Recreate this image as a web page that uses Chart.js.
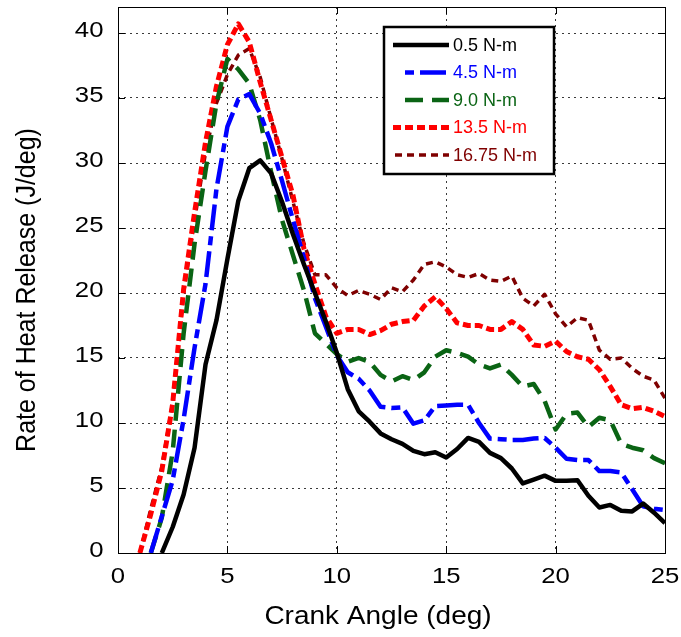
<!DOCTYPE html>
<html>
<head>
<meta charset="utf-8">
<title>Rate of Heat Release</title>
<script src="https://cdn.jsdelivr.net/npm/chart.js@4.4.0/dist/chart.umd.min.js"></script>
<style>
  html, body { margin: 0; padding: 0; background: #fff; }
  #chart { display: block; }
</style>
</head>
<body>
<canvas id="chart" width="681" height="637"></canvas>
<script>
const FONT = "'Liberation Sans', Arial, Helvetica, sans-serif";

// crank angle (deg) shared by every load case
const angle = [1, 1.5, 2, 2.5, 3, 3.5, 4, 4.5, 5, 5.5, 6, 6.5, 7, 7.5, 8, 8.5, 9, 9.5,
  10, 10.5, 11, 11.5, 12, 12.5, 13, 13.5, 14, 14.5, 15, 15.5, 16, 16.5, 17, 17.5,
  18, 18.5, 19, 19.5, 20, 20.5, 21, 21.5, 22, 22.5, 23, 23.5, 24, 24.5, 25];

// rate of heat release (J/deg), one array per engine load
const hrr_0_5 = [null, null, 0, 2.0, 4.5, 8.1, 14.5, 17.9, 22.6, 27.1, 29.6, 30.2, 29.2, 27.0,
  24.5, 22.2, 20.0, 17.8, 15.4, 12.6, 10.9, 10.1, 9.2, 8.75, 8.4, 7.85, 7.6, 7.75, 7.35, 8.0,
  8.85, 8.55, 7.7, 7.3, 6.5, 5.35, 5.65, 5.95, 5.55, 5.55, 5.6, 4.4, 3.5, 3.7, 3.25, 3.2, 3.8, 3.1, 2.3];
const hrr_4_5 = [null, 0, 2.8, 5.6, 10.3, 15.8, 20.7, 28.0, 32.8, 34.9, 35.3, 33.8, 31.5, 28.6,
  25.6, 22.7, 19.6, 17.4, 15.2, 13.9, 13.4, 12.5, 11.25, 11.15, 11.2, 9.95, 10.2, 11.3, 11.35, 11.4,
  11.4, 10.0, 8.8, 8.75, 8.7, 8.7, 8.8, 8.85, 8.1, 7.25, 7.15, 7.15, 6.3, 6.3, 6.2, 4.9, 3.6, 3.4, 3.3];
const hrr_9_0 = [null, 0, 2.7, 7.8, 16.9, 23.8, 29.4, 34.6, 38.0, 37.2, 36.1, 33.3, 29.3, 25.6,
  22.9, 20.2, 16.9, 16.1, 15.3, 14.7, 15.0, 14.7, 13.7, 13.2, 13.6, 13.3, 13.9, 15.1, 15.6, 15.4,
  15.1, 14.5, 14.2, 14.5, 13.7, 12.8, 13.0, 11.7, 9.5, 10.7, 10.8, 9.7, 10.4, 10.2, 8.4, 8.1, 7.9, 7.3, 6.9];
const hrr_13_5 = [0, 3.0, 6.3, 11.5, 20.3, 26.2, 31.6, 35.9, 39.1, 40.7, 39.3, 36.2, 33.3, 30.4,
  27.5, 23.4, 20.7, 18.2, 16.9, 17.2, 17.2, 16.8, 17.1, 17.6, 17.8, 17.9, 19.0, 19.7, 18.8, 17.7,
  17.5, 17.5, 17.2, 17.2, 17.8, 17.2, 16.0, 15.9, 16.3, 15.5, 15.1, 14.9, 14.1, 12.8, 11.4, 11.1, 11.2, 10.9, 10.5];
const hrr_16_75 = [0, 3.4, 6.6, 11.6, 20.0, 25.6, 30.8, 34.6, 36.8, 38.3, 38.8, 36.6, 33.4, 30.3,
  27.0, 23.8, 21.4, 21.4, 20.4, 19.8, 20.2, 19.9, 19.5, 20.4, 20.1, 21.0, 22.2, 22.4, 22.0, 21.4,
  21.2, 21.5, 21.0, 20.9, 21.3, 19.6, 19.0, 19.9, 18.4, 17.4, 18.1, 17.9, 15.6, 14.9, 15.0, 14.2, 13.6, 13.3, 11.9];

const loadLabels = ["0.5 N-m", "4.5 N-m", "9.0 N-m", "13.5 N-m", "16.75 N-m"];
const xTicks = [0, 5, 10, 15, 20, 25];
const yTicks = [0, 5, 10, 15, 20, 25, 30, 35, 40];
const xTitle = "Crank Angle (deg)";
const yTitle = "Rate of Heat Release (J/deg)";

const pts = (ys) => angle.map((x, i) => ({ x, y: ys[i] }));

const line = (label, ys, color, width, dash) => ({
  label,
  data: pts(ys),
  borderColor: color,
  backgroundColor: color,
  borderWidth: width,
  borderDash: dash,
  borderCapStyle: "butt",
  borderJoinStyle: "round",
  pointRadius: 0,
  tension: 0,
  fill: false,
});

// box, inward tick marks
const frame = {
  id: "frame",
  afterDatasetsDraw(chart) {
    const { ctx, chartArea: a, scales } = chart;
    ctx.save();
    ctx.strokeStyle = "#000";
    ctx.lineWidth = 1;
    ctx.setLineDash([]);
    ctx.beginPath();
    const L = 7;
    xTicks.forEach((v) => {
      const x = Math.round(scales.x.getPixelForValue(v)) + 0.5;
      ctx.moveTo(x, a.bottom); ctx.lineTo(x, a.bottom - L);
      ctx.moveTo(x, a.top); ctx.lineTo(x, a.top + L);
    });
    yTicks.forEach((v) => {
      const y = Math.round(scales.y.getPixelForValue(v)) + 0.5;
      ctx.moveTo(a.left, y); ctx.lineTo(a.left + L, y);
      ctx.moveTo(a.right, y); ctx.lineTo(a.right - L, y);
    });
    ctx.stroke();
    ctx.strokeRect(Math.round(a.left) + 0.5, Math.round(a.top) + 0.5,
      Math.round(a.right - a.left), Math.round(a.bottom - a.top));
    ctx.restore();
  },
};

// tick labels and axis titles use a slightly widened face
const TICK_SIZE = 22, TICK_SX = 1.17;
const TITLE_SIZE = 25, TITLE_SX = 1.12;

function wideText(ctx, text, x, y, sx, align, baseline) {
  ctx.save();
  ctx.translate(x, y);
  ctx.scale(sx, 1);
  ctx.textAlign = align;
  ctx.textBaseline = baseline;
  ctx.fillText(text, 0, 0);
  ctx.restore();
}

const axisText = {
  id: "axisText",
  afterDraw(chart) {
    const { ctx, scales } = chart;
    ctx.save();
    ctx.fillStyle = "#000";
    ctx.font = `${TICK_SIZE}px ${FONT}`;
    scales.x.ticks.forEach((t) => {
      wideText(ctx, String(t.value), scales.x.getPixelForValue(t.value), 577, TICK_SX, "center", "middle");
    });
    scales.y.ticks.forEach((t) => {
      wideText(ctx, String(t.value), 103.5, scales.y.getPixelForValue(t.value) - 2.5, TICK_SX, "right", "middle");
    });

    ctx.font = `${TITLE_SIZE}px ${FONT}`;
    wideText(ctx, xTitle, 378, 624, TITLE_SX, "center", "alphabetic");

    ctx.save();
    ctx.translate(35, 290);
    ctx.rotate(-Math.PI / 2);
    ctx.scale(1, TITLE_SX);
    ctx.textAlign = "center";
    ctx.textBaseline = "alphabetic";
    ctx.fillText(yTitle, 0, 0);
    ctx.restore();
    ctx.restore();
  },
};

// legend box in the upper right of the plot
const legendStart = [393, 405, 405, 393, 395];
const legendOffset = [0, 32, 0, 0, 0];
const boxLegend = {
  id: "boxLegend",
  afterDatasetsDraw(chart) {
    const { ctx } = chart;
    const x0 = 384, y0 = 27, w = 170, h = 147;
    ctx.save();
    ctx.fillStyle = "#fff";
    ctx.fillRect(x0, y0, w, h);
    ctx.lineWidth = 2.5;
    ctx.strokeStyle = "#000";
    ctx.setLineDash([]);
    ctx.strokeRect(x0, y0, w, h);
    ctx.font = `18px ${FONT}`;
    ctx.textBaseline = "middle";
    chart.data.datasets.forEach((ds, i) => {
      const y = 45 + i * 27.5;
      ctx.beginPath();
      ctx.setLineDash(ds.borderDash || []);
      ctx.lineDashOffset = legendOffset[i];
      ctx.lineWidth = ds.borderWidth;
      ctx.strokeStyle = ds.borderColor;
      ctx.lineCap = "butt";
      ctx.moveTo(legendStart[i], y);
      ctx.lineTo(449, y);
      ctx.stroke();
      ctx.setLineDash([]);
      ctx.fillStyle = ds.borderColor;
      ctx.fillText(ds.label, 453, y + 1);
    });
    ctx.restore();
  },
};

const gridStyle = { color: "#3a3a3a", lineWidth: 1, drawTicks: false };

new Chart(document.getElementById("chart"), {
  type: "line",
  data: {
    datasets: [
      line(loadLabels[0], hrr_0_5, "#000000", 4.5, []),
      line(loadLabels[1], hrr_4_5, "#0000ff", 4.5, [26, 6, 9, 6]),
      line(loadLabels[2], hrr_9_0, "#0a6414", 4.5, [18, 9]),
      line(loadLabels[3], hrr_13_5, "#ff0000", 5, [8, 4]),
      line(loadLabels[4], hrr_16_75, "#7f0000", 3.5, [7, 5]),
    ],
  },
  options: {
    responsive: false,
    animation: false,
    devicePixelRatio: 1,
    layout: { padding: { top: 7, right: 16, left: 0, bottom: 0 } },
    plugins: { legend: { display: false }, tooltip: { enabled: false } },
    scales: {
      x: {
        type: "linear",
        min: 0,
        max: 25,
        afterBuildTicks: (s) => { s.ticks = xTicks.map((v) => ({ value: v })); },
        afterFit: (s) => {
          s.height = 84;
          s.paddingLeft = 0;
          s.paddingRight = 0;
        },
        ticks: { display: false },
        grid: gridStyle,
        border: { display: false, dash: [2, 4] },
      },
      y: {
        type: "linear",
        min: 0,
        max: 42,
        afterBuildTicks: (s) => { s.ticks = yTicks.map((v) => ({ value: v })); },
        afterFit: (s) => {
          s.width = 118;
          s.paddingTop = 0;
          s.paddingBottom = 0;
        },
        ticks: { display: false },
        grid: gridStyle,
        border: { display: false, dash: [2, 4] },
      },
    },
  },
  plugins: [frame, boxLegend, axisText],
});
</script>
</body>
</html>
